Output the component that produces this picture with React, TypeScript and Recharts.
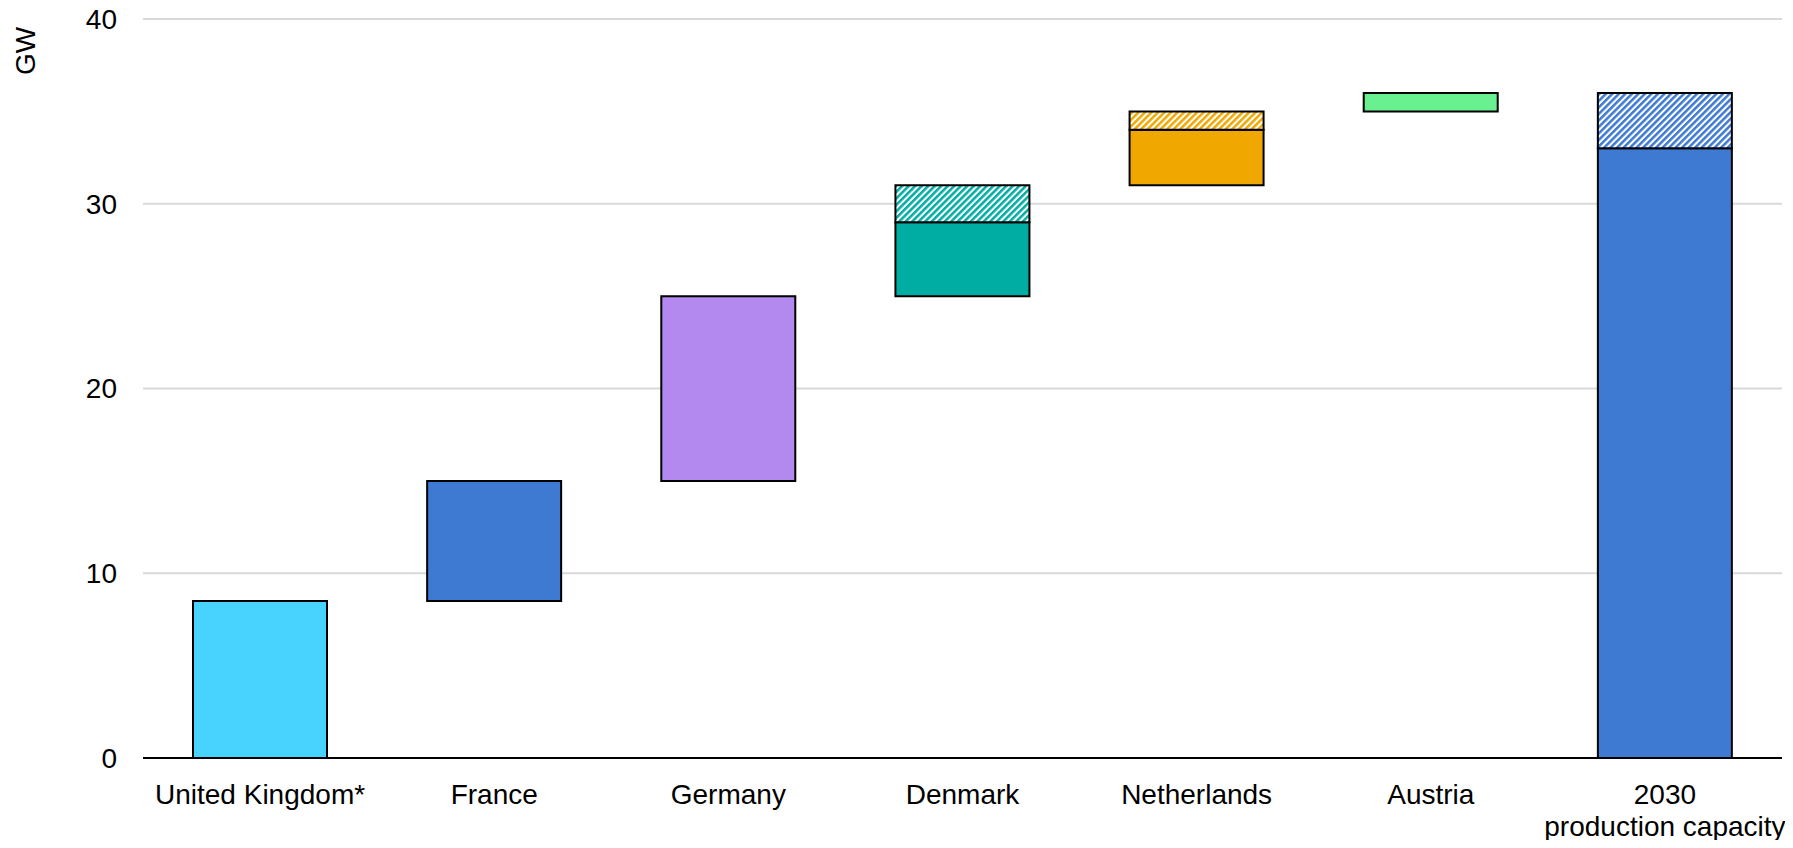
import { Bar, BarChart, CartesianGrid, Cell, XAxis, YAxis } from 'recharts';

// waterfall: invisible base + solid part + hatched (pipeline) part
const categories = ['United Kingdom*', 'France', 'Germany', 'Denmark', 'Netherlands', 'Austria', '2030\nproduction capacity'];
const baseValues = [0, 8.5, 15, 25, 31, 35, 0];
const solidValues = [8.5, 6.5, 10, 4, 3, 1, 33];
const hatchedValues = [0, 0, 0, 2, 1, 0, 3];
const barColors = ['#48d3ff', '#3e7ad2', '#b389f0', '#00ada3', '#f0a800', '#69f190', '#3e7ad2'];
const yTicks = [0, 10, 20, 30, 40];

const FONT = '"Liberation Sans", Arial, sans-serif';
const HATCH = 4.6;

const rows = categories.map((name, i) => ({
  name,
  base: baseValues[i],
  solid: solidValues[i],
  hatched: hatchedValues[i],
}));

function patternId(color: string) {
  return `hatch-${color.replace('#', '')}`;
}

function CategoryTick(props: any) {
  const { x, y, payload } = props;
  const lines = String(payload.value).split('\n');
  return (
    <text x={x} y={y} textAnchor="middle" fill="#000" fontSize={28} fontFamily={FONT}>
      {lines.map((line, i) => (
        <tspan key={i} x={x} dy={i === 0 ? 46 : 32}>
          {line}
        </tspan>
      ))}
    </text>
  );
}

export default function App() {
  const hatchColors = Array.from(new Set(barColors));

  return (
    <div style={{ margin: -8, width: 1793, height: 848, background: '#fff' }}>
      <BarChart
        width={1793}
        height={848}
        data={rows}
        margin={{ top: 19, right: 11, left: 0, bottom: 0 }}
        barSize={134}
      >
        <defs>
          {hatchColors.map((c) => (
            <pattern
              key={c}
              id={patternId(c)}
              patternUnits="userSpaceOnUse"
              width={HATCH}
              height={HATCH}
              patternTransform="rotate(45)"
            >
              <rect width={HATCH} height={HATCH} fill="#fff" />
              <rect x={0} y={0} width={HATCH * 0.55} height={HATCH} fill={c} />
            </pattern>
          ))}
        </defs>
        <CartesianGrid vertical={false} stroke="#d9d9d9" strokeWidth={2} />
        <XAxis
          dataKey="name"
          interval={0}
          height={90}
          tickLine={false}
          tickSize={0}
          tickMargin={0}
          axisLine={{ stroke: '#000', strokeWidth: 2 }}
          tick={<CategoryTick />}
        />
        <YAxis
          width={143}
          domain={[0, 40]}
          ticks={yTicks}
          axisLine={false}
          tickLine={false}
          tickSize={0}
          tickMargin={26}
          tick={{ fontSize: 28, fill: '#000', fontFamily: FONT }}
          label={(p: any) => {
            const vb = p.viewBox || { x: 0, y: 19 };
            return (
              <text
                x={vb.x + 25}
                y={vb.y + 32}
                transform={`rotate(-90, ${vb.x + 25}, ${vb.y + 32})`}
                textAnchor="middle"
                dominantBaseline="central"
                fontSize={28}
                fontFamily={FONT}
                fill="#000"
              >
                GW
              </text>
            );
          }}
        />
        <Bar dataKey="base" stackId="w" fill="transparent" isAnimationActive={false} />
        <Bar dataKey="solid" stackId="w" stroke="#000" strokeWidth={2} isAnimationActive={false}>
          {rows.map((r, i) => (
            <Cell key={r.name} fill={barColors[i]} />
          ))}
        </Bar>
        <Bar dataKey="hatched" stackId="w" stroke="#000" strokeWidth={2} isAnimationActive={false}>
          {rows.map((r, i) => (
            <Cell key={r.name} fill={`url(#${patternId(barColors[i])})`} />
          ))}
        </Bar>
      </BarChart>
    </div>
  );
}
